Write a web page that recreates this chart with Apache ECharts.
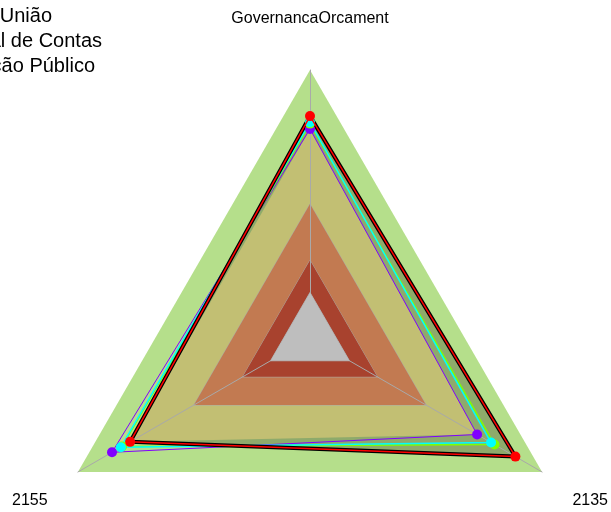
<!DOCTYPE html>
<html>
<head>
<meta charset="utf-8">
<script src="https://cdn.jsdelivr.net/npm/echarts@6/dist/echarts.min.js"></script>
<style>
html, body { margin: 0; padding: 0; background: #fff; }
#main { width: 611px; height: 512px; }
</style>
</head>
<body>
<div id="main"></div>
<script>
// eixos: topo, baixo-esquerda, baixo-direita
var indicadores = ['GovernancaOrcament', '2155', '2135'];

// faixas de fundo
var faixaVerde = [1, 1, 1];
var faixaLaranja = [0.5, 0.5, 0.5];
var faixaVermelha = [0.29, 0.29, 0.29];
var faixaCinza = [0.17, 0.17, 0.17];

// series
var seriePreta = [0.825, 0.775, 0.885];
var serieVermelha = [0.828, 0.775, 0.885];
var serieVerde = [0.80, 0.81, 0.795];
var serieCiano = [0.805, 0.815, 0.78];
var serieRoxa = [0.78, 0.853, 0.72];

var todas = [serieVermelha, serieVerde, serieCiano, serieRoxa];
var intersecao = indicadores.map(function (n, i) {
	return Math.min.apply(null, todas.map(function (s) { return s[i]; }));
});

var myChart = echarts.init(document.getElementById('main'));

var radarBase = {
	center: [310, 338],
	radius: 268,
	startAngle: 90,
	shape: 'polygon',
	splitNumber: 1,
	indicator: indicadores.map(function (n) { return { name: n, min: 0, max: 1 }; }),
	splitLine: { show: false },
	splitArea: { show: false },
	axisTick: { show: false },
	axisLabel: { show: false }
};

function faixa(valores, cor, borda, z) {
	return {
		type: 'radar',
		radarIndex: 0,
		z: z,
		silent: true,
		symbol: 'none',
		lineStyle: { color: borda || cor, width: borda ? 1 : 0 },
		areaStyle: { color: cor, opacity: 1 },
		data: [{ value: valores }]
	};
}

function linha(valores, cor, largura, simbolo, z) {
	return {
		type: 'radar',
		radarIndex: 1,
		z: z,
		symbol: simbolo ? 'circle' : 'none',
		symbolSize: 10,
		itemStyle: { color: cor },
		lineStyle: { color: cor, width: largura },
		data: [{ value: valores }]
	};
}

var fonte = '20px "Liberation Sans", Arial, sans-serif';

option = {
	animation: false,
	graphic: [
		{ type: 'text', style: { text: 'Controle Externo da União', x: 52, y: 16, align: 'right', verticalAlign: 'middle', font: fonte, fill: '#000' } },
		{ type: 'text', style: { text: 'Tribunal de Contas', x: 102, y: 41, align: 'right', verticalAlign: 'middle', font: fonte, fill: '#000' } },
		{ type: 'text', style: { text: 'Administração Público', x: 95, y: 66, align: 'right', verticalAlign: 'middle', font: fonte, fill: '#000' } }
	],
	radar: [
		Object.assign({}, radarBase, {
			z: 0,
			axisLine: { show: false },
			axisName: { show: false }
		}),
		Object.assign({}, radarBase, {
			z: 2,
			nameGap: 35,
			axisLine: { show: true, lineStyle: { color: '#a9a9a9', width: 1 } },
			axisName: {
				color: '#000',
				fontSize: 16,
				lineHeight: 22,
				fontFamily: '"Liberation Sans", Arial, sans-serif',
				formatter: function (nome) {
					return nome === indicadores[0] ? '{t|' + nome + '}' : '\n' + nome;
				},
				rich: {
					t: { fontSize: 16, color: '#000', fontFamily: '"Liberation Sans", Arial, sans-serif', padding: [0, 0, 10, 0] }
				}
			}
		})
	],
	series: [
		faixa(faixaVerde, '#b5df8b', null, 1),
		faixa(seriePreta, '#8eaa6b', null, 1),
		faixa(intersecao, '#c2bf73', null, 1),
		faixa(faixaLaranja, '#c27a51', '#a9a9a9', 1),
		faixa(faixaVermelha, '#a8422e', '#a9a9a9', 1),
		faixa(faixaCinza, '#bebebe', '#a9a9a9', 2.5),
		linha(serieRoxa, '#8000ff', 1, true, 3),
		linha(serieVerde, '#80ff00', 1.5, true, 3),
		linha(serieCiano, '#00ffff', 1.5, true, 3),
		linha(serieVermelha, '#000000', 4, false, 3),
		linha(serieVermelha, '#ff0000', 1.5, true, 4)
	]
};

myChart.setOption(option);
</script>
</body>
</html>
